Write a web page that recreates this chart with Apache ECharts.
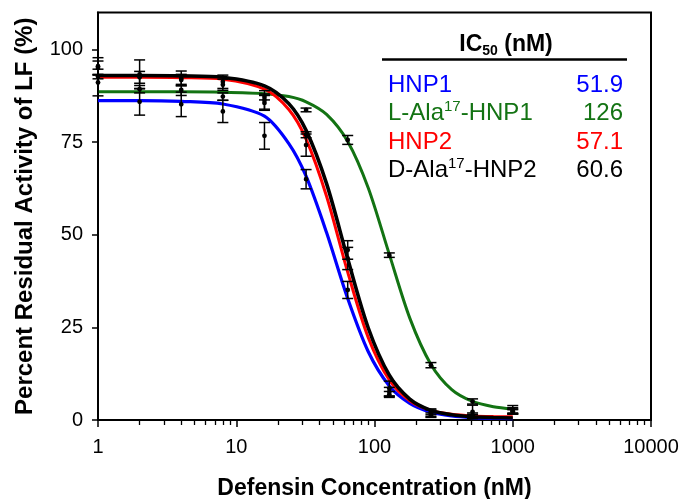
<!DOCTYPE html>
<html>
<head>
<meta charset="utf-8">
<script src="https://cdn.jsdelivr.net/npm/echarts@6/dist/echarts.min.js"></script>
<style>
html,body{margin:0;padding:0;background:#fff;}
#chart{width:684px;height:499px;}
</style>
</head>
<body>
<div id="chart"></div>
<script>
// ---- data ----
var conc = [1, 2, 4, 8, 16, 32, 64, 128, 256, 512, 1000];
var hnp1Mean = [91.1, 85.9, 85.2, 83.3, 76.7, 65.0, 35.1, 6.9, 1.3, 1.0, 2.2];
var hnp1Err  = [3.6, 3.6, 3.3, 3.0, 3.6, 2.6, 2.3, 0.8, 0.6, 0.5, 0.6];
var lAlaMean = [92.7, 89.3, 89.1, 87.3, 87.2, 83.7, 75.6, 44.5, 14.8, 5.0, 2.9];
var lAlaErr  = [0.6, 1.0, 1.5, 1.0, 0.8, 0.5, 1.2, 0.6, 0.7, 0.7, 1.0];
var hnp2Mean = [95.0, 92.5, 91.8, 90.5, 85.6, 74.2, 43.6, 7.6, 1.8, 1.3, 2.5];
var hnp2Err  = [1.9, 1.6, 1.5, 1.5, 2.0, 3.0, 3.0, 1.2, 0.9, 0.6, 0.8];
var dAlaMean = [95.5, 93.3, 92.2, 91.3, 86.4, 77.0, 45.9, 8.5, 2.2, 2.2, 2.3];
var dAlaErr  = [2.3, 3.9, 2.0, 1.8, 2.5, 0.8, 2.5, 2.0, 0.8, 1.8, 0.7];

var fitX     = [1, 2, 4, 8, 16, 24, 32, 45, 64, 90, 128, 180, 256, 362, 512, 724, 1000];
var hnp1Fit  = [86.2, 86.2, 86.0, 85.3, 82.0, 74.6, 65.8, 50.6, 32.8, 18.5, 9.2, 4.5, 2.1, 1.1, 0.65, 0.45, 0.37];
var lAlaFit  = [88.6, 88.6, 88.6, 88.5, 88.1, 87.3, 85.9, 82.5, 75.2, 62.7, 44.7, 27.5, 15.0, 8.2, 5.0, 3.6, 3.0];
var hnp2Fit  = [92.5, 92.5, 92.4, 92.0, 89.3, 83.8, 75.8, 60.4, 39.9, 22.3, 10.8, 5.2, 2.6, 1.55, 1.1, 0.92, 0.85];
var dAlaFit  = [93.0, 93.0, 92.9, 92.5, 90.2, 85.4, 78.2, 63.8, 43.5, 24.9, 12.1, 5.65, 2.6, 1.4, 0.86, 0.65, 0.56];

var yTicks = [0, 25, 50, 75, 100];
var xMajor = [1, 10, 100, 1000, 10000];
var xMinor = [2,3,4,5,6,7,8,9,20,30,40,50,60,70,80,90,200,300,400,500,600,700,800,900,2000,3000,4000,5000,6000,7000,8000,9000];

var names  = ['HNP1', 'L-Ala17-HNP1', 'HNP2', 'D-Ala17-HNP2'];
var ic50   = ['51.9', '126', '57.1', '60.6'];

// ---- styles ----
var FONT = 'Arial, "Liberation Sans", sans-serif';
var BLUE = '#0000ff', GREEN = '#137313', RED = '#ff0000', BLACK = '#000000';

function pairs(xs, ys) { return xs.map(function (x, i) { return [x, ys[i]]; }); }
function triples(xs, ys, es) { return xs.map(function (x, i) { return [x, ys[i], es[i]]; }); }

function errRender(params, api) {
  var x = api.value(0), y = api.value(1), e = api.value(2);
  var p = api.coord([x, y]);
  var t = api.coord([x, y + e]);
  var b = api.coord([x, y - e]);
  var hw = 5.5;
  var st = { stroke: '#000', lineWidth: 1.5 };
  return {
    type: 'group',
    children: [
      { type: 'line', shape: { x1: p[0], y1: t[1], x2: p[0], y2: b[1] }, style: st },
      { type: 'line', shape: { x1: p[0] - hw, y1: t[1], x2: p[0] + hw, y2: t[1] }, style: st },
      { type: 'line', shape: { x1: p[0] - hw, y1: b[1], x2: p[0] + hw, y2: b[1] }, style: st },
      { type: 'circle', shape: { cx: p[0], cy: p[1], r: 2.4 }, style: { fill: '#000' } }
    ]
  };
}

function fitLine(data, color, width, z) {
  return {
    type: 'line', xAxisIndex: 0, yAxisIndex: 0, data: data, smooth: 0.3,
    showSymbol: false, symbol: 'none', z: z, animation: false,
    lineStyle: { color: color, width: width }
  };
}
function errSeries(data) {
  return { type: 'custom', xAxisIndex: 0, yAxisIndex: 0, data: data, renderItem: errRender, z: 10, animation: false };
}

var chart = echarts.init(document.getElementById('chart'), null, { renderer: 'canvas' });

var rowY = [85, 113.5, 142, 170.5];
var rowColors = [BLUE, GREEN, RED, BLACK];
var graphics = [
  { type: 'text', x: 506, y: 45, style: {
      text: '{b|IC}{s|50}{b| (nM)}', align: 'center', verticalAlign: 'middle',
      rich: {
        b: { font: 'bold 23px ' + FONT, fill: '#000', lineHeight: 26 },
        s: { font: 'bold 14px ' + FONT, fill: '#000', verticalAlign: 'bottom', lineHeight: 14 }
      } } },
  { type: 'line', shape: { x1: 382, y1: 59.5, x2: 627, y2: 59.5 }, style: { stroke: '#000', lineWidth: 2.5 } }
];
names.forEach(function (n, i) {
  var c = rowColors[i];
  var m = n.match(/^(.*Ala)(17)(-.*)$/);
  var txt = m ? '{n|' + m[1] + '}{s|' + m[2] + '}{n|' + m[3] + '}' : '{n|' + n + '}';
  graphics.push({ type: 'text', x: 388, y: rowY[i], style: {
    text: txt, align: 'left', verticalAlign: 'middle',
    rich: {
      n: { font: '24px ' + FONT, fill: c, lineHeight: 28 },
      s: { font: '15px ' + FONT, fill: c, verticalAlign: 'top', lineHeight: 15 }
    } } });
  graphics.push({ type: 'text', x: 623, y: rowY[i], style: {
    text: ic50[i], align: 'right', verticalAlign: 'middle', font: '24px ' + FONT, fill: c } });
});

var GRID = { left: 98, right: 33, top: 12.5, bottom: 79, containLabel: false, outerBoundsMode: 'none' };

chart.setOption({
  animation: false,
  backgroundColor: '#fff',
  grid: [
    Object.assign({ show: true, borderColor: '#000', borderWidth: 2, backgroundColor: 'transparent' }, GRID),
    Object.assign({ show: false }, GRID)
  ],
  xAxis: [
    { type: 'log', logBase: 10, min: 1, max: 10000, gridIndex: 0,
      name: 'Defensin Concentration (nM)', nameLocation: 'middle', nameGap: 57,
      nameTextStyle: { fontFamily: FONT, fontWeight: 'bold', fontSize: 23, color: '#000' },
      axisLine: { show: true, lineStyle: { color: '#000', width: 2 } },
      axisTick: { show: true, length: 7, lineStyle: { color: '#000', width: 1.5 } },
      axisLabel: { fontFamily: FONT, fontSize: 20, color: '#000', margin: 17,
                   showMinLabel: true, showMaxLabel: true,
                   formatter: function (v) { return String(Math.round(v)); } },
      splitLine: { show: false }, minorTick: { show: false }
    },
    // minor ticks (2..9 per decade), placed on a log10 value scale of the same extent
    { type: 'value', min: 0, max: 4, gridIndex: 1, position: 'bottom',
      axisLine: { show: false },
      axisTick: { show: true, length: 5, lineStyle: { color: '#000', width: 1.3 },
                  customValues: xMinor.map(function (v) { return Math.log10(v); }) },
      axisLabel: { show: false },
      splitLine: { show: false }
    }
  ],
  yAxis: [
    { type: 'value', min: 0, max: 110, interval: 25, gridIndex: 0,
      name: 'Percent Residual Activity of LF (%)', nameLocation: 'middle', nameGap: 61,
      nameTextStyle: { fontFamily: FONT, fontWeight: 'bold', fontSize: 24, color: '#000' },
      axisLine: { show: true, lineStyle: { color: '#000', width: 2 } },
      axisTick: { show: true, length: 6, lineStyle: { color: '#000', width: 1.5 }, customValues: yTicks },
      axisLabel: { fontFamily: FONT, fontSize: 20, color: '#000', margin: 15, customValues: yTicks,
                   formatter: function (v) { return v > 100 ? '' : String(v); } },
      splitLine: { show: false }
    },
    { type: 'value', min: 0, max: 110, gridIndex: 1, show: false }
  ],
  graphic: graphics,
  series: [
    fitLine(pairs(fitX, lAlaFit), GREEN, 3, 2),
    fitLine(pairs(fitX, hnp1Fit), BLUE, 3.2, 3),
    fitLine(pairs(fitX, hnp2Fit), RED, 3, 4),
    fitLine(pairs(fitX, dAlaFit), BLACK, 3.6, 5),
    errSeries(triples(conc, lAlaMean, lAlaErr)),
    errSeries(triples(conc, hnp1Mean, hnp1Err)),
    errSeries(triples(conc, hnp2Mean, hnp2Err)),
    errSeries(triples(conc, dAlaMean, dAlaErr))
  ]
});
</script>
</body>
</html>
